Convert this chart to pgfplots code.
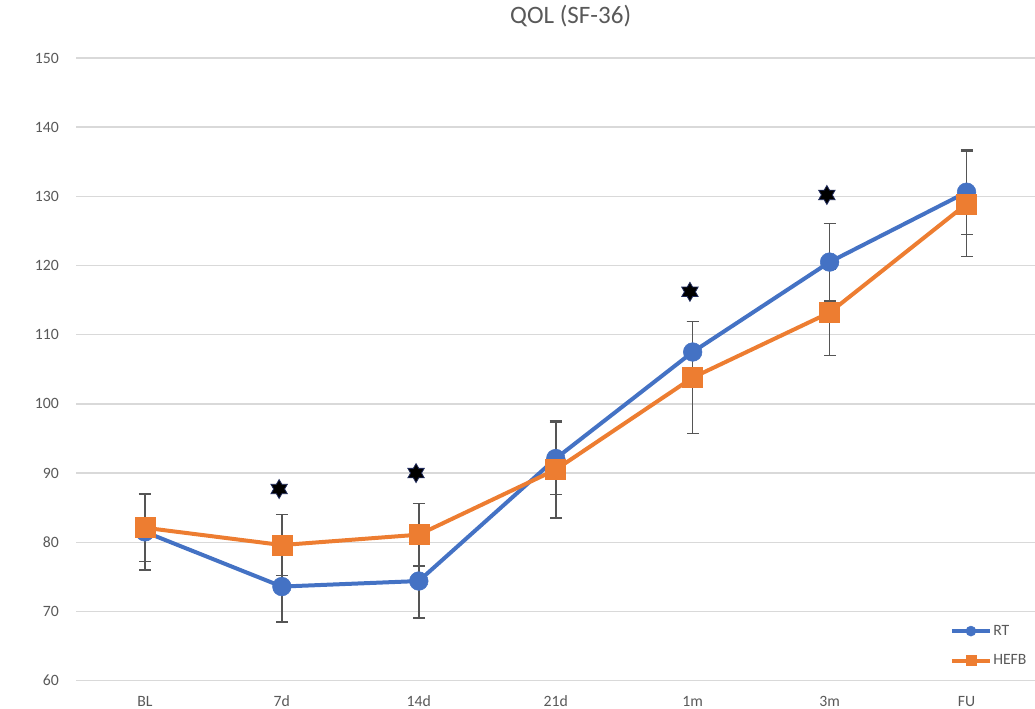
\documentclass[border=0pt]{standalone}
\usepackage{pgfplots}
\usepackage{pgfplotstable}
\pgfplotsset{compat=1.18}
\usepackage{fontspec}
\setmainfont{Carlito}

\definecolor{rtblue}{HTML}{4472C4}
\definecolor{hefborange}{HTML}{ED7D31}
\definecolor{txtgray}{HTML}{595959}
\definecolor{gridgray}{HTML}{D9D9D9}
\definecolor{errgray}{HTML}{555555}
\definecolor{starnavy}{HTML}{1F2A5A}

% six-pointed star used to flag significant differences
\pgfdeclareplotmark{hexstar}{%
  \pgfpathmoveto{\pgfpointpolar{90}{\pgfplotmarksize}}%
  \pgfpathlineto{\pgfpointpolar{120}{0.577\pgfplotmarksize}}%
  \pgfpathlineto{\pgfpointpolar{150}{\pgfplotmarksize}}%
  \pgfpathlineto{\pgfpointpolar{180}{0.577\pgfplotmarksize}}%
  \pgfpathlineto{\pgfpointpolar{210}{\pgfplotmarksize}}%
  \pgfpathlineto{\pgfpointpolar{240}{0.577\pgfplotmarksize}}%
  \pgfpathlineto{\pgfpointpolar{270}{\pgfplotmarksize}}%
  \pgfpathlineto{\pgfpointpolar{300}{0.577\pgfplotmarksize}}%
  \pgfpathlineto{\pgfpointpolar{330}{\pgfplotmarksize}}%
  \pgfpathlineto{\pgfpointpolar{0}{0.577\pgfplotmarksize}}%
  \pgfpathlineto{\pgfpointpolar{30}{\pgfplotmarksize}}%
  \pgfpathlineto{\pgfpointpolar{60}{0.577\pgfplotmarksize}}%
  \pgfpathclose
  \pgfusepathqfillstroke
}

% time point, RT mean, RT sd, HEFB mean, HEFB sd
\pgfplotstableread{
x  rt     rterr  hefb   hefberr
0  81.5   5.5    82.1   4.9
1  73.6   5.1    79.6   4.4
2  74.4   5.3    81.1   4.5
3  92.1   5.2    90.5   7.0
4  107.5  4.4    103.8  8.1
5  120.5  5.6    113.2  6.2
6  130.6  6.1    128.9  7.6
}\qoldata

% significance markers
\pgfplotstableread{
x     y
0.98  87.7
1.98  90.0
3.98  116.2
4.98  130.2
}\sigdata

\begin{document}
\begin{tikzpicture}
\begin{axis}[
  scale only axis,
  width=719.25pt, height=467.25pt,
  xmin=-0.5, xmax=6.5,
  ymin=60, ymax=150,
  ytick={60,70,...,150},
  xtick={0,...,6},
  xticklabels={BL,7d,14d,21d,1m,3m,FU},
  axis line style={draw=none},
  major tick length=0pt,
  ymajorgrids,
  grid style={gridgray, line width=1pt},
  /pgf/number format/assume math mode=true,
  tick label style={font=\fontsize{11.8}{14}\selectfont, text=txtgray},
  yticklabel style={anchor=east, inner sep=0pt, xshift=-13pt},
  xticklabel style={anchor=base, inner sep=0pt, yshift=-19.3pt},
  title={QOL (SF-36)},
  title style={at={(rel axis cs:0.5156,1)}, anchor=base, inner sep=0pt,
    yshift=19.7pt, font=\fontsize{18.8}{22}\selectfont, text=txtgray},
  legend style={at={(rel axis cs:0.911,0.056)}, anchor=west,
    draw=none, fill=none, inner sep=0pt, row sep=11pt,
    font=\fontsize{11.8}{14}\selectfont, text=txtgray,
    nodes={inner sep=1pt}},
  legend cell align=left,
  legend image code/.code={%
    \draw[mark repeat=2, mark phase=2, mark size=3.75pt]
      plot coordinates {(0pt,0pt) (14.25pt,0pt) (28.5pt,0pt)};},
]
% error bars first, so that the markers sit on top of them
\addplot[forget plot, only marks, mark=none,
  error bars/.cd, y dir=both, y explicit,
  error bar style={draw=errgray, line width=1.2pt},
  error mark options={rotate=90, draw=errgray, mark size=4.5pt, line width=1.2pt}]
  table[x=x, y=rt, y error=rterr]{\qoldata};
\addplot[forget plot, only marks, mark=none,
  error bars/.cd, y dir=both, y explicit,
  error bar style={draw=errgray, line width=1.2pt},
  error mark options={rotate=90, draw=errgray, mark size=4.5pt, line width=1.2pt}]
  table[x=x, y=hefb, y error=hefberr]{\qoldata};

\addplot[rtblue, line width=3pt, mark=*, mark size=7pt,
  mark options={solid, fill=rtblue, draw=rtblue, line width=0.4pt}]
  table[x=x, y=rt]{\qoldata};
\addlegendentry{RT}
\addplot[hefborange, line width=3pt, mark=square*, mark size=7.5pt,
  mark options={solid, fill=hefborange, draw=hefborange, line width=0.4pt}]
  table[x=x, y=hefb]{\qoldata};
\addlegendentry{HEFB}

\addplot[forget plot, only marks, mark=hexstar, mark size=7.1pt,
  mark options={fill=black, draw=starnavy, line width=0.6pt}]
  table[x=x, y=y]{\sigdata};

\node[rotate=90, anchor=south, inner sep=0pt, text=txtgray,
  font=\fontsize{11.8}{14}\selectfont]
  at ([xshift=-37.9pt]rel axis cs:0,0.512) {SF-36};

\coordinate (plotsw) at (rel axis cs:0,0);
\coordinate (plotne) at (rel axis cs:1,1);
\end{axis}
\pgfresetboundingbox
\path[use as bounding box] ([xshift=-57.375pt, yshift=-21pt]plotsw)
  rectangle ([yshift=43.5pt]plotne);
\end{tikzpicture}
\end{document}
